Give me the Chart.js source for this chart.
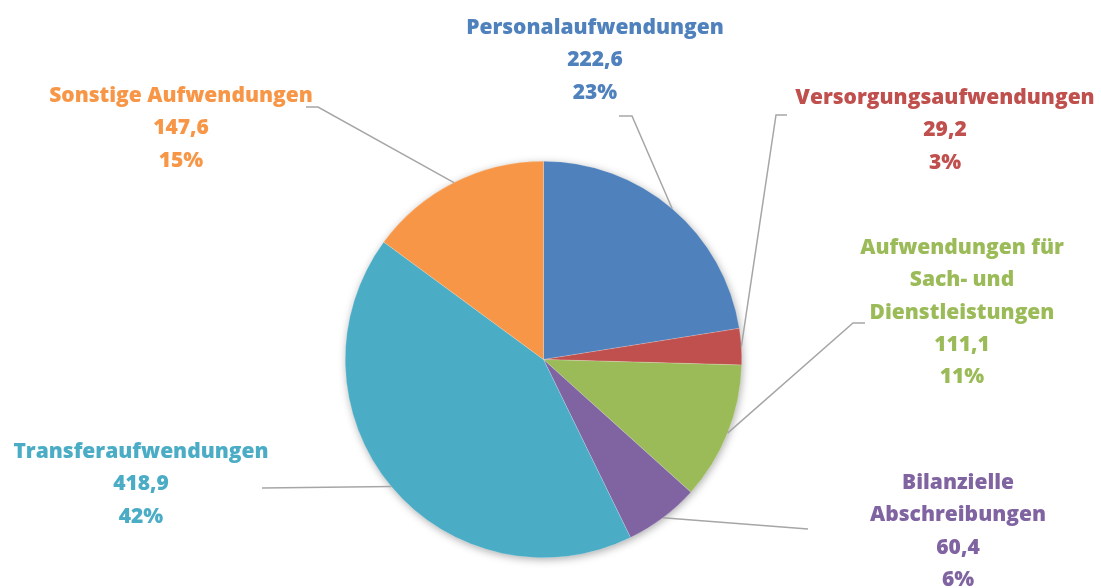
<!DOCTYPE html>
<html>
<head>
<meta charset="utf-8">
<script src="https://cdn.jsdelivr.net/npm/chart.js@4/dist/chart.umd.min.js"></script>
<style>
	html, body { margin: 0; padding: 0; background: #fff; }
	#wrap { width: 1101px; height: 588px; }
</style>
</head>
<body>
<div id="wrap"><canvas id="pieChart" width="1101" height="588"></canvas></div>
<script>
// data (Mio. EUR)
const categories = [
	['Personalaufwendungen'],
	['Versorgungsaufwendungen'],
	['Aufwendungen für', 'Sach- und', 'Dienstleistungen'],
	['Bilanzielle', 'Abschreibungen'],
	['Transferaufwendungen'],
	['Sonstige Aufwendungen']
];
const values = [222.6, 29.2, 111.1, 60.4, 418.9, 147.6];
const percentLabels = ['23%', '3%', '11%', '6%', '42%', '15%'];
const sliceColors = ['#4F81BD', '#C0504D', '#9BBB59', '#8064A2', '#4BACC6', '#F79646'];

// label placement: centre of first text line, and leader points from the label side
const labelLayout = [
	{ x: 595, y: 28, leader: [[619, 116], [632, 116]] },
	{ x: 945, y: 98, leader: [[787, 115], [776, 115]] },
	{ x: 962, y: 248, leader: [[865, 323], [853, 323]] },
	{ x: 958, y: 483, leader: [[808, 529]] },
	{ x: 141, y: 452, leader: [[262, 488]] },
	{ x: 181, y: 96, leader: [[306, 107], [318, 107]] }
];
const lineHeight = 32.3;

const fmtValue = v => v.toLocaleString('de-DE', { minimumFractionDigits: 1, maximumFractionDigits: 1 });

const shadowPlugin = {
	id: 'pieShadow',
	beforeDatasetsDraw(chart) {
		const arc = chart.getDatasetMeta(0).data[0];
		if (!arc) return;
		const { x, y, outerRadius } = arc.getProps(['x', 'y', 'outerRadius'], true);
		const ctx = chart.ctx;
		ctx.save();
		ctx.shadowColor = 'rgba(0,0,0,0.35)';
		ctx.shadowBlur = 9;
		ctx.shadowOffsetX = 1;
		ctx.shadowOffsetY = 2;
		ctx.fillStyle = '#ffffff';
		ctx.beginPath();
		ctx.arc(x, y, outerRadius - 0.5, 0, Math.PI * 2);
		ctx.fill();
		ctx.restore();
	}
};

const labelPlugin = {
	id: 'outerLabels',
	afterDatasetsDraw(chart) {
		const ctx = chart.ctx;
		const meta = chart.getDatasetMeta(0);
		meta.data.forEach((arc, i) => {
			const p = arc.getProps(['x', 'y', 'startAngle', 'endAngle', 'outerRadius'], true);
			const mid = (p.startAngle + p.endAngle) / 2;
			const ex = p.x + Math.cos(mid) * p.outerRadius;
			const ey = p.y + Math.sin(mid) * p.outerRadius;
			const lay = labelLayout[i];

			// leader line
			ctx.save();
			ctx.strokeStyle = '#A6A6A6';
			ctx.lineWidth = 1.5;
			ctx.beginPath();
			ctx.moveTo(lay.leader[0][0], lay.leader[0][1]);
			for (let k = 1; k < lay.leader.length; k++) {
				ctx.lineTo(lay.leader[k][0], lay.leader[k][1]);
			}
			ctx.lineTo(ex, ey);
			ctx.stroke();
			ctx.restore();

			// text
			const lines = categories[i].concat([fmtValue(values[i]), percentLabels[i]]);
			ctx.save();
			ctx.fillStyle = sliceColors[i];
			ctx.font = '800 21px "Open Sans", Lato, sans-serif';
			ctx.textAlign = 'center';
			ctx.textBaseline = 'middle';
			lines.forEach((t, k) => ctx.fillText(t, lay.x, lay.y + k * lineHeight));
			ctx.restore();
		});
	}
};

new Chart(document.getElementById('pieChart').getContext('2d'), {
	type: 'pie',
	data: {
		labels: categories,
		datasets: [{
			data: values,
			backgroundColor: sliceColors,
			borderColor: 'rgba(255,255,255,0.35)',
			borderWidth: 0.5
		}]
	},
	options: {
		responsive: false,
		animation: false,
		layout: { padding: { left: 345, right: 359, top: 161, bottom: 30 } },
		plugins: {
			legend: { display: false },
			tooltip: { enabled: false }
		}
	},
	plugins: [shadowPlugin, labelPlugin]
});
</script>
</body>
</html>
